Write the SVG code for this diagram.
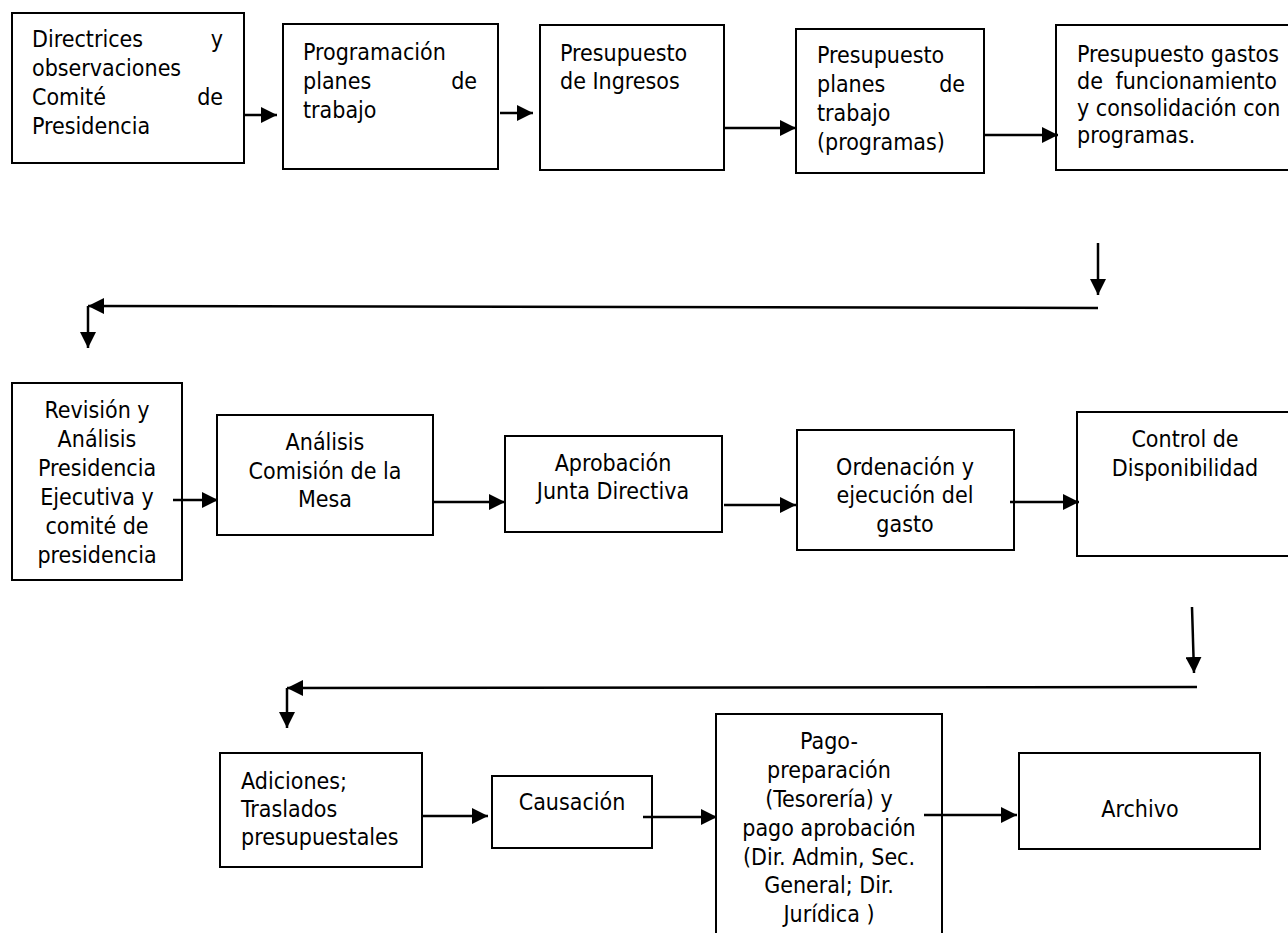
<svg xmlns="http://www.w3.org/2000/svg" width="1288" height="933" viewBox="0 0 1288 933">
<style>
.box{fill:#fff;stroke:#000;stroke-width:2}
text{font-family:'DejaVu Sans Condensed','DejaVu Sans',sans-serif;font-stretch:condensed;font-size:23px;fill:#000}
.c{text-anchor:middle}
.e{text-anchor:end}
.cn{fill:none;stroke:#000;stroke-width:2.5}
</style>
<defs>
<marker id="ah" markerUnits="userSpaceOnUse" markerWidth="16" markerHeight="16" refX="16" refY="8" orient="auto">
<path d="M0,0 L16,8 L0,16 z" fill="#000"/>
</marker>
</defs>
<rect width="1288" height="933" fill="#fff"/>
<g id="n1"><rect class="box" x="12" y="13" width="232" height="150"/>
<text x="32" y="47">Directrices</text><text class="e" x="223" y="47">y</text>
<text x="32" y="76">observaciones</text>
<text x="32" y="105">Comité</text><text class="e" x="223" y="105">de</text>
<text x="32" y="134">Presidencia</text></g>
<g id="n2"><rect class="box" x="283" y="24" width="215" height="145"/>
<text x="303" y="60">Programación</text>
<text x="303" y="89">planes</text><text class="e" x="477" y="89">de</text>
<text x="303" y="118">trabajo</text></g>
<g id="n3"><rect class="box" x="540" y="25" width="184" height="145"/>
<text x="560" y="61">Presupuesto</text>
<text x="560" y="89">de Ingresos</text></g>
<g id="n4"><rect class="box" x="796" y="29" width="188" height="144"/>
<text x="817" y="63">Presupuesto</text>
<text x="817" y="92">planes</text><text class="e" x="965" y="92">de</text>
<text x="817" y="121">trabajo</text>
<text x="817" y="150">(programas)</text></g>
<g id="n5"><rect class="box" x="1056" y="25" width="240" height="145"/>
<text x="1077" y="62">Presupuesto gastos</text>
<text x="1077" y="89">de</text><text class="e" x="1277" y="89">funcionamiento</text>
<text x="1077" y="116">y consolidación con</text>
<text x="1077" y="143">programas.</text></g>
<g id="n6"><rect class="box" x="12" y="383" width="170" height="197"/>
<text class="c" x="97" y="418">Revisión y</text>
<text class="c" x="97" y="447">Análisis</text>
<text class="c" x="97" y="476">Presidencia</text>
<text class="c" x="97" y="505">Ejecutiva y</text>
<text class="c" x="97" y="534">comité de</text>
<text class="c" x="97" y="563">presidencia</text></g>
<g id="n7"><rect class="box" x="217" y="415" width="216" height="120"/>
<text class="c" x="325" y="450">Análisis</text>
<text class="c" x="325" y="479">Comisión de la</text>
<text class="c" x="325" y="507">Mesa</text></g>
<g id="n8"><rect class="box" x="505" y="436" width="217" height="96"/>
<text class="c" x="613" y="471">Aprobación</text>
<text class="c" x="613" y="499">Junta Directiva</text></g>
<g id="n9"><rect class="box" x="797" y="430" width="217" height="120"/>
<text class="c" x="905" y="475">Ordenación y</text>
<text class="c" x="905" y="503">ejecución del</text>
<text class="c" x="905" y="532">gasto</text></g>
<g id="n10"><rect class="box" x="1077" y="412" width="220" height="144"/>
<text class="c" x="1185" y="447">Control de</text>
<text class="c" x="1185" y="476">Disponibilidad</text></g>
<g id="n11"><rect class="box" x="220" y="753" width="202" height="114"/>
<text x="241" y="789">Adiciones;</text>
<text x="241" y="817">Traslados</text>
<text x="241" y="845">presupuestales</text></g>
<g id="n12"><rect class="box" x="492" y="776" width="160" height="72"/>
<text class="c" x="572" y="810">Causación</text></g>
<g id="n13"><rect class="box" x="716" y="714" width="226" height="225"/>
<text class="c" x="829" y="749">Pago-</text>
<text class="c" x="829" y="778">preparación</text>
<text class="c" x="829" y="807">(Tesorería) y</text>
<text class="c" x="829" y="836">pago aprobación</text>
<text class="c" x="829" y="865">(Dir. Admin, Sec.</text>
<text class="c" x="829" y="893">General; Dir.</text>
<text class="c" x="829" y="922">Jurídica )</text></g>
<g id="n14"><rect class="box" x="1019" y="753" width="241" height="96"/>
<text class="c" x="1140" y="817">Archivo</text></g>
<g id="connectors">
<line class="cn" x1="244" y1="115" x2="277" y2="115" marker-end="url(#ah)"/>
<line class="cn" x1="500" y1="113" x2="533" y2="113" marker-end="url(#ah)"/>
<line class="cn" x1="724" y1="128" x2="796" y2="128" marker-end="url(#ah)"/>
<line class="cn" x1="984" y1="135" x2="1058" y2="135" marker-end="url(#ah)"/>
<line class="cn" x1="1098" y1="243" x2="1098" y2="295" marker-end="url(#ah)"/>
<line class="cn" x1="1098" y1="308" x2="88" y2="306" marker-end="url(#ah)"/>
<line class="cn" x1="88" y1="306" x2="88" y2="348" marker-end="url(#ah)"/>
<line class="cn" x1="173" y1="500" x2="218" y2="500" marker-end="url(#ah)"/>
<line class="cn" x1="433" y1="502" x2="505" y2="502" marker-end="url(#ah)"/>
<line class="cn" x1="724" y1="505" x2="796" y2="505" marker-end="url(#ah)"/>
<line class="cn" x1="1010" y1="502" x2="1079" y2="502" marker-end="url(#ah)"/>
<line class="cn" x1="1192" y1="607" x2="1194" y2="673" marker-end="url(#ah)"/>
<line class="cn" x1="1197" y1="687" x2="287" y2="688" marker-end="url(#ah)"/>
<line class="cn" x1="287" y1="688" x2="287" y2="728" marker-end="url(#ah)"/>
<line class="cn" x1="422" y1="816" x2="488" y2="816" marker-end="url(#ah)"/>
<line class="cn" x1="643" y1="817" x2="717" y2="817" marker-end="url(#ah)"/>
<line class="cn" x1="924" y1="815" x2="1017" y2="815" marker-end="url(#ah)"/>
</g>
</svg>
